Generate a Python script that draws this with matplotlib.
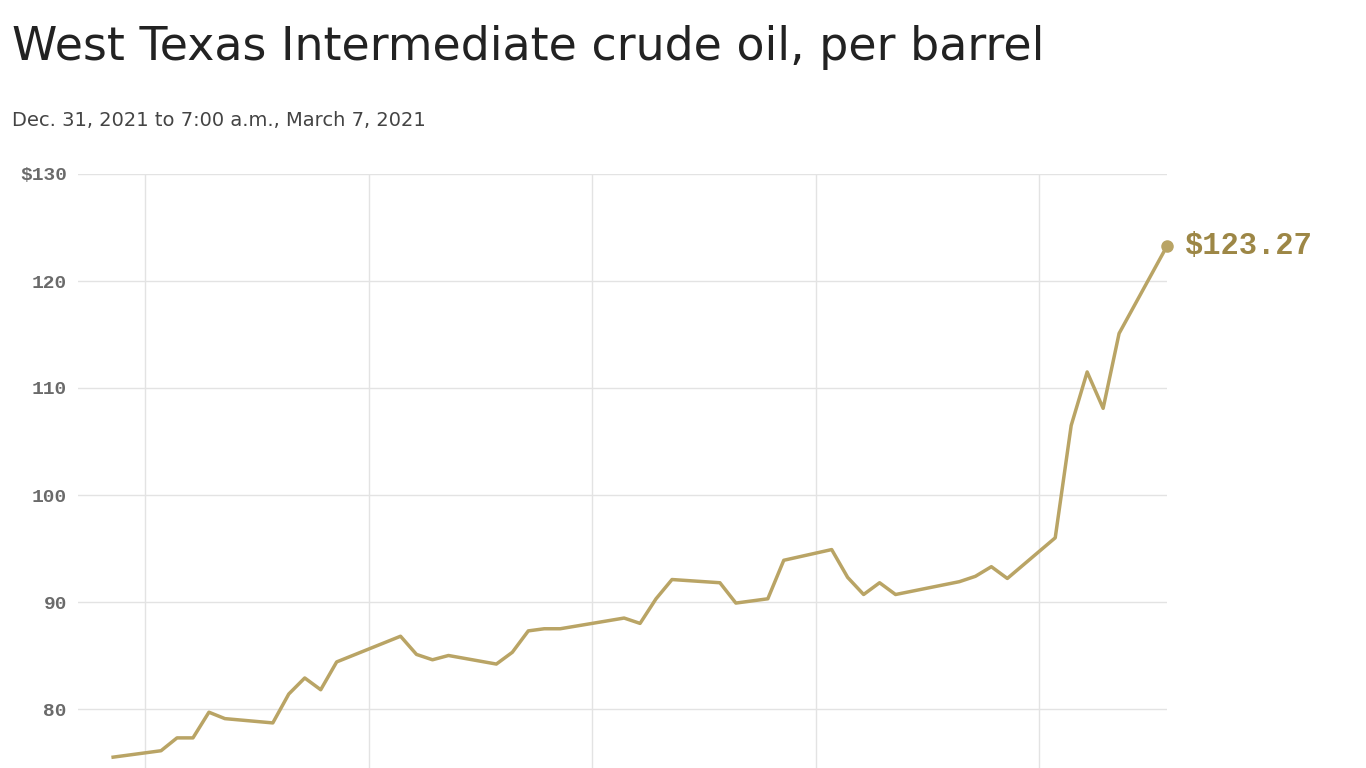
import matplotlib
matplotlib.use("Agg")
import matplotlib.pyplot as plt
import pandas as pd

dates = ["2021-12-31","2022-01-03","2022-01-04","2022-01-05","2022-01-06","2022-01-07","2022-01-10","2022-01-11","2022-01-12","2022-01-13","2022-01-14","2022-01-18","2022-01-19","2022-01-20","2022-01-21","2022-01-24","2022-01-25","2022-01-26","2022-01-27","2022-01-28","2022-02-01","2022-02-02","2022-02-03","2022-02-04","2022-02-07","2022-02-08","2022-02-10","2022-02-11","2022-02-14","2022-02-15","2022-02-16","2022-02-17","2022-02-18","2022-02-22","2022-02-23","2022-02-24","2022-02-25","2022-02-28","2022-03-01","2022-03-02","2022-03-03","2022-03-04","2022-03-07"]
prices = [75.5,76.1,77.3,77.3,79.7,79.1,78.7,81.4,82.9,81.8,84.4,86.8,85.1,84.6,85.0,84.2,85.3,87.3,87.5,87.5,88.5,88.0,90.3,92.1,91.8,89.9,90.3,93.9,94.9,92.3,90.7,91.8,90.7,91.9,92.4,93.3,92.2,96.0,106.5,111.5,108.1,115.1,123.27]
grid_dates = ["2022-01-02","2022-01-16","2022-01-30","2022-02-13","2022-02-27"]
yticks = [80,90,100,110,120,130]
ylabels = ["80","90","100","110","120","$130"]

d = pd.to_datetime(dates)
fig = plt.figure(figsize=(13.66,7.68), dpi=100)
ax = fig.add_axes([78/1366, 1-816/768, 1089/1366, 642/768])
col = "#b9a465"
ax.plot(d, prices, color=col, lw=2.5, solid_joinstyle="round")
ax.plot(d[-1:], prices[-1:], "o", color=col, ms=8, clip_on=False)
ax.annotate(f"${prices[-1]:.2f}", (d[-1], prices[-1]), xytext=(13,0), textcoords="offset points",
            va="center", ha="left", fontsize=22, fontweight="bold", color="#9d8746",
            family="Liberation Mono", annotation_clip=False)
ax.set_ylim(70,130)
ax.set_xlim(pd.Timestamp("2021-12-31")-pd.Timedelta(days=2.2), d[-1])
ax.set_yticks(yticks, ylabels, family="Liberation Mono", fontsize=14, fontweight="bold", color="#6a6a6a")
ax.set_xticks(pd.to_datetime(grid_dates), [""]*len(grid_dates))
ax.tick_params(length=0, pad=8)
ax.grid(True, color="#e3e3e3", lw=1)
for s in ax.spines.values():
    s.set_visible(False)
fig.text(12/1366, 1-47/768, "West Texas Intermediate crude oil, per barrel", fontsize=33, va="center", ha="left", color="#222222")
fig.text(12/1366, 1-120/768, "Dec. 31, 2021 to 7:00 a.m., March 7, 2021", fontsize=14, va="center", ha="left", color="#444444")
fig.savefig("out.png", dpi=100)
